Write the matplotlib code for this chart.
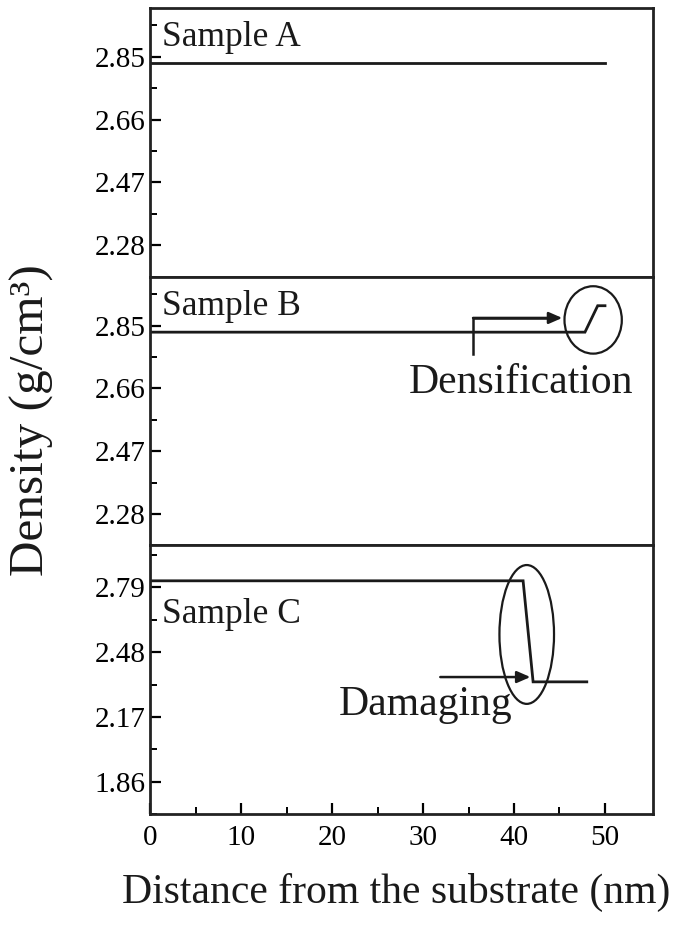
import numpy as np
import matplotlib
matplotlib.use("Agg")
from matplotlib import pyplot as plt
from matplotlib.patches import Ellipse

plt.rcParams['font.family'] = ['Liberation Serif', 'DejaVu Serif']

# density profiles (distance in nm, density in g/cm3)
dist_a = [0, 50]
dens_a = [2.83, 2.83]

dist_b = [0, 47.8, 49.2, 50]
dens_b = [2.83, 2.83, 2.91, 2.91]

dist_c = [0, 41.0, 42.1, 48.0]
dens_c = [2.822, 2.822, 2.338, 2.338]

panel_names = ["Sample A", "Sample B", "Sample C"]

ticks_ab = [2.28, 2.47, 2.66, 2.85]
ticks_c = [1.86, 2.17, 2.48, 2.79]
lims_ab = (2.246, 2.998)
lims_c = (1.759, 2.992)

xticks = [0, 10, 20, 30, 40, 50]

# annotation helpers: circles around the features and the bent arrows
circle_b = (48.7, 2.867, 6.3, 0.204)     # cx, cy, w, h
circle_c = (41.4, 2.565, 6.0, 0.665)
arrow_b_x = [35.5, 35.5, 45.3]
arrow_b_y = [2.765, 2.873, 2.873]
arrow_c_x = [31.9, 41.8]
arrow_c_y = [2.361, 2.361]

lc = '#1a1a1a'

fig = plt.figure(figsize=(6.79, 9.25), dpi=100)
gs = fig.add_gridspec(3, 1, left=0.221, right=0.962, bottom=0.12, top=0.9914, hspace=0)
axes = [fig.add_subplot(gs[i]) for i in range(3)]

data = [(dist_a, dens_a), (dist_b, dens_b), (dist_c, dens_c)]
text_y = [0.858, 0.859, 0.711]

for i, ax in enumerate(axes):
    x, y = data[i]
    ax.plot(x, y, color=lc, lw=2.0, solid_joinstyle='miter')
    ax.set_xlim(0, 55.3)
    if i < 2:
        ax.set_ylim(*lims_ab)
        tk = ticks_ab
    else:
        ax.set_ylim(*lims_c)
        tk = ticks_c
    step = tk[1] - tk[0]
    ax.set_yticks(tk)
    ax.set_yticklabels(["%.2f" % t for t in tk])
    minors = [t + step / 2 for t in tk] + [tk[0] - step / 2]
    ax.set_yticks(minors, minor=True)
    ax.text(0.024, text_y[i], panel_names[i], transform=ax.transAxes,
            fontsize=25.5, ha='left', va='baseline', color=lc)
    for s in ax.spines.values():
        s.set_linewidth(2.0)
        s.set_color('#222222')
    ax.tick_params(axis='y', which='major', direction='in', length=8, width=1.6,
                   labelsize=21, pad=3, right=False)
    ax.tick_params(axis='y', which='minor', direction='in', length=5, width=1.4, right=False)
    if i < 2:
        ax.set_xticks([])
        ax.tick_params(axis='x', which='both', bottom=False, top=False, labelbottom=False)
    else:
        ax.set_xticks(xticks)
        ax.set_xticks([t + 5 for t in xticks[:-1]], minor=True)
        ax.tick_params(axis='x', which='major', direction='in', length=8, width=1.6,
                       labelsize=21, pad=8, top=False)
        ax.tick_params(axis='x', which='minor', direction='in', length=5, width=1.4, top=False)

# Sample B: densification near the surface
ax = axes[1]
ax.add_patch(Ellipse(circle_b[:2], circle_b[2], circle_b[3], fill=False, ec=lc, lw=1.6))
ax.plot(arrow_b_x[:-1] + [arrow_b_x[-1] - 1.5], arrow_b_y[:-1] + [arrow_b_y[-1]], color=lc, lw=1.8)
ax.annotate('', xy=(arrow_b_x[-1], arrow_b_y[-1]), xytext=(arrow_b_x[-2], arrow_b_y[-2]),
            arrowprops=dict(arrowstyle='-|>,head_length=0.8,head_width=0.35', color=lc, lw=1.8,
                            shrinkA=0, shrinkB=0))
ax.text(28.4, 2.646, "Densification", fontsize=30, ha='left', va='baseline', color=lc)

# Sample C: damaged layer
ax = axes[2]
ax.add_patch(Ellipse(circle_c[:2], circle_c[2], circle_c[3], fill=False, ec=lc, lw=1.6))
ax.annotate('', xy=(arrow_c_x[1], arrow_c_y[1]), xytext=(arrow_c_x[0], arrow_c_y[0]),
            arrowprops=dict(arrowstyle='-|>,head_length=0.8,head_width=0.35', color=lc, lw=1.8,
                            shrinkA=0, shrinkB=0))
ax.text(20.7, 2.177, "Damaging", fontsize=30, ha='left', va='baseline', color=lc)

fig.text(0.047, 0.546, "Density (g/cm³)", rotation=90, fontsize=35.5,
         ha='center', va='center', color=lc)
fig.text(0.584, 0.035, "Distance from the substrate (nm)", fontsize=30,
         ha='center', va='center', color=lc)

fig.savefig("out.png", dpi=100)
